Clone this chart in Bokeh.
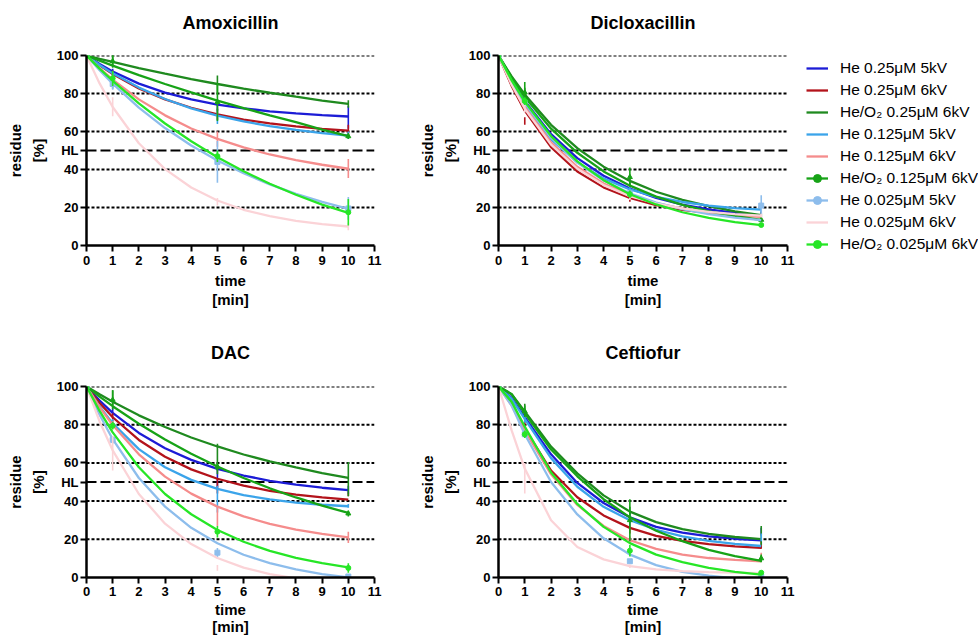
from bokeh.plotting import figure
from bokeh.models import Range1d, Span, FixedTicker, Legend, LegendItem, Title
from bokeh.layouts import row, column
from bokeh.embed import file_html
from bokeh.resources import INLINE

FONT = "Liberation Sans"

SERIES = ["He 0.25\u03bcM 5kV", "He 0.25\u03bcM 6kV", "He/O\u2082 0.25\u03bcM 6kV",
          "He 0.125\u03bcM 5kV", "He 0.125\u03bcM 6kV", "He/O\u2082 0.125\u03bcM 6kV",
          "He 0.025\u03bcM 5kV", "He 0.025\u03bcM 6kV", "He/O\u2082 0.025\u03bcM 6kV"]
COLORS = ["#1c1cd6", "#b3131b", "#1f8a1f", "#3ba4ea", "#f58c8c",
          "#17a317", "#8dbdec", "#fbd3d7", "#26e626"]
MARKERS = [None, None, None, None, None, "triangle", "square", None, "circle"]

T_FIT = [0, 0.5, 1, 2, 3, 4, 5, 6, 7, 8, 9, 10]
T_OBS = [1, 5, 10]
X_TICKS = list(range(12))
Y_TICKS = [0, 20, 40, 50, 60, 80, 100]
GRID_Y = [20, 40, 60, 80, 100]
HL = 50

# fitted curves (residue %), one list per series
amox_fit = [
    [100, 95.5, 91.6, 85.2, 80.5, 76.9, 74.2, 72.2, 70.6, 69.5, 68.6, 67.9],
    [100, 94.8, 90.3, 82.7, 76.9, 72.5, 69.0, 66.3, 64.3, 62.7, 61.4, 60.5],
    [100, 98.2, 96.6, 93.3, 90.4, 87.6, 85.0, 82.6, 80.4, 78.3, 76.3, 74.5],
    [100, 95.0, 90.6, 83.1, 77.1, 72.2, 68.4, 65.3, 62.8, 60.8, 59.2, 57.9],
    [100, 93.3, 87.3, 76.9, 68.5, 61.6, 56.1, 51.6, 47.9, 44.9, 42.5, 40.4],
    [100, 97.3, 94.7, 89.7, 85.0, 80.6, 76.3, 72.3, 68.5, 64.9, 61.0, 57.6],
    [100, 92.3, 85.2, 72.6, 61.8, 52.6, 44.7, 38.0, 32.2, 27.2, 23.0, 19.3],
    [100, 85.3, 72.9, 53.8, 40.2, 30.5, 23.7, 18.8, 15.4, 13.0, 11.2, 10.0],
    [100, 93.1, 86.7, 74.8, 64.2, 54.9, 46.5, 39.1, 32.5, 26.7, 21.5, 17.2],
]
diclox_fit = [
    [100, 87.1, 76.1, 58.6, 46.0, 36.7, 30.0, 25.1, 21.5, 19.0, 17.1, 15.7],
    [100, 84.0, 71.0, 51.8, 39.0, 30.6, 25.0, 21.3, 18.8, 17.2, 16.1, 15.4],
    [100, 89.0, 79.5, 63.5, 51.2, 41.5, 34.0, 28.3, 24.0, 20.7, 18.0, 16.0],
    [100, 85.7, 73.8, 55.9, 43.7, 35.3, 29.5, 25.6, 22.9, 21.0, 19.7, 18.9],
    [100, 85.2, 72.9, 54.3, 41.4, 32.6, 26.5, 22.3, 19.4, 17.4, 16.0, 15.1],
    [100, 88.4, 78.2, 61.5, 48.8, 39.0, 31.5, 25.7, 21.4, 18.0, 15.4, 13.5],
    [100, 86.4, 74.8, 56.7, 43.6, 34.2, 27.5, 22.6, 19.1, 16.5, 14.7, 13.4],
    [100, 84.6, 72.0, 53.1, 40.4, 31.8, 26.0, 22.1, 19.5, 17.7, 16.5, 15.7],
    [100, 86.9, 75.7, 57.6, 44.3, 34.4, 27.0, 21.6, 17.5, 14.5, 12.3, 10.7],
]
dac_fit = [
    [100, 92.6, 86.2, 75.7, 67.7, 61.6, 56.9, 53.4, 50.6, 48.6, 47.0, 45.8],
    [100, 91.4, 83.9, 72.0, 63.2, 56.6, 51.7, 48.1, 45.4, 43.4, 41.9, 40.8],
    [100, 95.9, 92.0, 84.9, 78.8, 73.3, 68.6, 64.4, 60.8, 57.6, 54.7, 52.1],
    [100, 89.5, 80.7, 67.2, 57.7, 51.1, 46.4, 43.1, 40.9, 39.2, 38.1, 37.3],
    [100, 89.2, 79.8, 64.5, 52.8, 43.9, 37.1, 32.0, 28.1, 25.1, 22.8, 21.0],
    [100, 94.7, 89.7, 80.5, 72.2, 64.8, 58.1, 52.1, 46.7, 41.9, 37.6, 33.8],
    [100, 85.2, 72.4, 52.1, 37.1, 26.0, 17.9, 11.9, 7.5, 4.2, 1.8, 0.0],
    [100, 81.7, 66.6, 43.7, 28.2, 17.5, 10.2, 5.2, 1.8, -0.5, -2.1, -3.2],
    [100, 87.2, 76.0, 57.7, 43.7, 33.1, 24.9, 18.7, 13.9, 10.3, 7.5, 5.3],
]
ceft_fit = [
    [100, 94.0, 84.0, 64.5, 49.5, 39.0, 31.5, 26.5, 23.5, 21.5, 20.3, 19.5],
    [100, 91.0, 78.0, 56.0, 42.0, 32.5, 26.0, 21.8, 19.2, 17.5, 16.3, 15.5],
    [100, 96.0, 87.0, 68.5, 54.5, 43.0, 34.5, 29.0, 25.3, 22.8, 21.2, 20.1],
    [100, 93.5, 83.0, 62.5, 47.5, 37.0, 30.0, 25.0, 21.5, 19.2, 17.6, 16.5],
    [100, 90.0, 77.0, 54.0, 38.0, 27.0, 19.5, 15.0, 12.0, 10.2, 9.2, 8.5],
    [100, 96.0, 86.0, 67.0, 53.0, 41.0, 31.5, 24.5, 19.0, 14.5, 11.2, 8.7],
    [100, 90.0, 75.0, 50.0, 33.0, 20.5, 12.0, 6.5, 3.0, 1.0, -0.5, -1.5],
    [100, 77.0, 57.0, 30.0, 16.0, 9.5, 6.0, 4.3, 3.3, 2.8, 2.5, 2.3],
    [100, 92.0, 79.0, 55.0, 38.5, 26.5, 18.0, 12.0, 8.0, 5.0, 3.0, 1.5],
]

# measured means and SDs at t = 1, 5, 10 min
amox_mean = [[91, 74, 67.5], [90, 69, 60.5], [98, 84.5, 74.5], [87, 68, 58], [87, 56, 40.5],
             [97, 75.5, 57.5], [85, 44, 19.5], [73, 23, 10], [88, 47, 17.5]]
amox_sd = [[2, 3, 6], [2, 3, 3], [3, 5, 2], [4.5, 4, 2], [3, 4, 5],
           [3.5, 10, 1.5], [3, 11, 6], [5, 2, 2], [4, 3, 7]]
diclox_mean = [[77, 30, 16], [65.5, 25, 15.5], [80, 34, 16], [74, 29.5, 19], [73, 26.5, 15],
               [80.5, 36, 13.5], [75, 27.5, 21], [72, 26, 15.7], [76, 27, 10.8]]
diclox_sd = [[2, 2, 2], [2, 2, 1.5], [3, 3, 1.5], [2, 2, 1.5], [2, 2, 1.5],
             [5.5, 5, 1], [2, 2, 5.5], [2, 2, 1], [2, 2, 1]]
dac_mean = [[87, 52, 46], [84, 48, 43.5], [94, 62, 51.5], [81, 41, 37.5], [80, 32, 21],
            [93, 58, 33.5], [72, 13, 0.5], [65, 5, 0], [79.5, 24, 5]]
dac_sd = [[2, 5, 2], [2, 4, 1], [4, 8, 9], [2, 7, 1], [2, 5, 3],
          [5, 2, 1.5], [2, 2.5, 0.5], [9, 1.5, 0.3], [2, 3, 2.5]]
ceft_mean = [[84, 31.5, 24], [80, 26, 17], [88, 33, 22], [83, 30, 21], [77, 19.5, 11],
             [87, 30, 10], [75, 8.5, 0.5], [52, 6, 2.5], [75, 14, 2.5]]
ceft_sd = [[2, 3, 2], [3, 3, 2], [3, 4, 5], [2, 3, 2], [2, 2, 2],
           [3, 11, 2], [2, 1, 0.5], [8, 1, 0.5], [2, 3, 1]]


def make_panel(title, fits, means, sds, width, height, left, right, top, bottom,
               tick_standoff, label_standoff, label_lh, title_gap):
    p = figure(width=width, height=height, x_range=Range1d(0, 11), y_range=Range1d(0, 100),
               output_backend="svg", toolbar_location=None, title=title,
               min_border_left=left, min_border_right=right,
               min_border_top=top, min_border_bottom=bottom)
    p.outline_line_color = None
    p.grid.visible = False
    p.background_fill_color = "white"
    p.border_fill_color = "white"

    # real title (outermost) and a blank spacer title next to the frame
    p.title.align = "center"
    p.title.text_font = FONT
    p.title.text_font_size = "18px"
    p.title.text_font_style = "bold"
    p.title.text_color = "black"
    p.title.standoff = 0
    p.add_layout(Title(text=" ", text_font_size="1px", standoff=title_gap), "above")

    for ax in (p.xaxis[0], p.yaxis[0]):
        ax.axis_line_width = 2.5
        ax.axis_line_color = "black"
        ax.major_tick_line_width = 2
        ax.major_tick_line_color = "black"
        ax.major_tick_out = 6
        ax.major_tick_in = 0
        ax.minor_tick_line_color = None
        ax.major_label_text_font = FONT
        ax.major_label_text_font_size = "13px"
        ax.major_label_text_font_style = "bold"
        ax.major_label_text_color = "black"
        ax.axis_label_text_font = FONT
        ax.axis_label_text_font_size = "15px"
        ax.axis_label_text_font_style = "bold"
        ax.axis_label_text_color = "black"

    p.xaxis.ticker = FixedTicker(ticks=X_TICKS)
    p.xaxis.axis_label = "time\n[min]"
    p.xaxis.major_label_standoff = tick_standoff
    p.xaxis.axis_label_standoff = label_standoff
    p.xaxis.axis_label_text_line_height = label_lh
    p.yaxis.ticker = FixedTicker(ticks=Y_TICKS)
    p.yaxis.major_label_overrides = {HL: "HL"}
    p.yaxis.axis_label = "residue\n[%]"
    p.yaxis.major_label_standoff = 2
    p.yaxis.axis_label_standoff = 7
    p.yaxis.axis_label_text_line_height = 1.35

    for gy in GRID_Y:
        p.add_layout(Span(location=gy, dimension="width", line_color="black",
                          line_dash="3 2", line_width=2, level="underlay"))
    p.add_layout(Span(location=HL, dimension="width", line_color="black",
                      line_dash="10 4", line_width=2.2, level="underlay"))

    for i in range(len(SERIES)):
        c = COLORS[i]
        p.line(T_FIT, fits[i], line_color=c, line_width=2.3)
        lo = [m - s for m, s in zip(means[i], sds[i])]
        hi = [m + s for m, s in zip(means[i], sds[i])]
        p.segment(x0=T_OBS, y0=lo, x1=T_OBS, y1=hi, line_color=c, line_width=1.6)
        if MARKERS[i]:
            p.scatter([0] + T_OBS, [100] + means[i], marker=MARKERS[i], size=5,
                      fill_color=c, line_color=c)
    return p


amox = make_panel("Amoxicillin", amox_fit, amox_mean, amox_sd, 400, 320, 86, 26, 55, 75, 4, 4, 1.15, 20)
diclox = make_panel("Dicloxacillin", diclox_fit, diclox_mean, diclox_sd, 395, 320, 98, 8, 55, 75, 4, 4, 1.15, 20)
dac = make_panel("DAC", dac_fit, dac_mean, dac_sd, 400, 318, 86, 26, 66, 61, 3, 2, 1.0, 21)
ceft = make_panel("Ceftiofur", ceft_fit, ceft_mean, ceft_sd, 395, 318, 98, 8, 66, 61, 3, 2, 1.0, 21)

lp = figure(width=183, height=638, x_range=Range1d(0, 1), y_range=Range1d(0, 1),
            output_backend="svg", toolbar_location=None, min_border=0,
            x_axis_location=None, y_axis_location=None)
lp.grid.visible = False
lp.outline_line_color = None
items = []
for i, name in enumerate(SERIES):
    rs = [lp.line(x=[-5, -4], y=[-5, -5], line_color=COLORS[i], line_width=2.3)]
    if MARKERS[i]:
        rs.append(lp.scatter(x=[-5], y=[-5], marker="circle", size=4,
                             fill_color=COLORS[i], line_color=COLORS[i]))
    items.append(LegendItem(label=name, renderers=rs))
legend = Legend(items=items, location=(11, 384), glyph_width=22, glyph_height=20,
                label_height=20, spacing=2, padding=0, margin=0, label_standoff=12,
                label_text_font=FONT, label_text_font_size="15.5px",
                label_text_color="black", border_line_color=None,
                background_fill_alpha=0)
lp.add_layout(legend)

layout = row(column(amox, dac), column(diclox, ceft), lp)

open("out.html", "w").write(file_html(layout, INLINE))
